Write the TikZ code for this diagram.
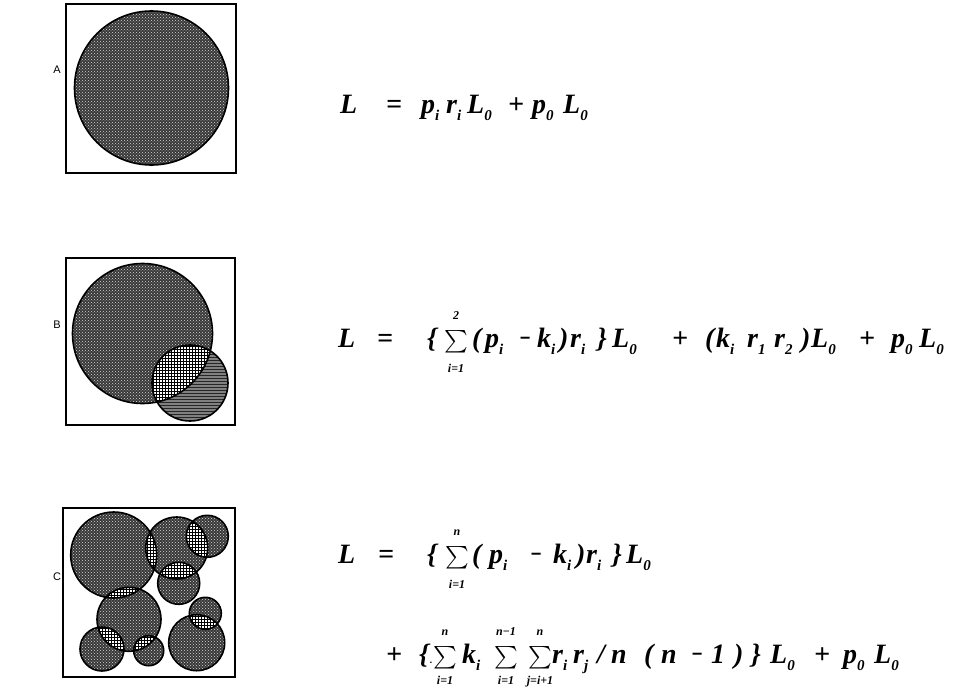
\documentclass[tikz,border=0pt]{standalone}
\usepackage{graphicx}
\usepackage{fontspec}
\setmainfont{Liberation Serif}
\newfontfamily\lblfont{Liberation Sans}
\usetikzlibrary{patterns}
\newcommand{\sbx}[1]{\raisebox{-0.28em}{\fontsize{15}{15}\selectfont #1}}
\newcommand{\mn}{\scalebox{0.7}[1]{\textminus}}
\newcommand{\tk}[4]{\node[eqt] (#1) at (#2,#3) {#4};}
\newcommand{\sm}[7]{%
  \node[sumt] (#1) at (#2,#3) {\scalebox{2.25}{$\textstyle\sum$}};
  \node[limt] (#1u) at (#2,#3-#6) {#4};
  \node[limt] (#1d) at (#2,#3+#7) {#5};}
\tikzset{
  eqt/.style={anchor=base west, inner sep=0pt, font=\fontsize{28}{30}\selectfont\bfseries\itshape},
  sumt/.style={anchor=base, inner sep=0pt},
  limt/.style={anchor=base, inner sep=0pt, font=\fontsize{12}{12}\selectfont\bfseries\itshape},
  lbl/.style={inner sep=0pt, font=\lblfont\fontsize{11}{12}\selectfont},
  frame/.style={draw, line width=1.1pt},
  blob/.style={fill=black!78},
  blobtex/.style={pattern=crosshatch dots, pattern color=white!85!black},
  rim/.style={draw, line width=1.6pt},
}
\begin{document}
\begin{tikzpicture}[x=1pt,y=-1pt]
\useasboundingbox (0,0) rectangle (955,688);
% ---------- labels
\node[lbl] (labA) at (57,70) {A};
\node[lbl] (labB) at (57,325) {B};
\node[lbl] (labC) at (57,577) {C};
% ---------- frames
\draw[frame] (66,4) rectangle (236,173);
\draw[frame] (66,258) rectangle (235,425);
\draw[frame] (63,508) rectangle (235,677);
% ---------- A
\coordinate (A0) at (151.5,88);
\fill[blob] (A0) circle[radius=77pt];
\fill[blobtex] (A0) circle[radius=77pt];
\draw[rim] (A0) circle[radius=77pt];
% ---------- B
\coordinate (B1) at (142.5,333.5);
\coordinate (B2) at (190,383);
\fill[blob] (B1) circle[radius=70pt];
\fill[blobtex] (B1) circle[radius=70pt];
\fill[black!50] (B2) circle[radius=38pt];
\fill[pattern=horizontal lines, pattern color=black!85] (B2) circle[radius=38pt];
\begin{scope}
  \clip (B1) circle[radius=70pt];
  \fill[white] (B2) circle[radius=38pt];
  \fill[pattern=grid] (B2) circle[radius=38pt];
\end{scope}
\draw[rim] (B1) circle[radius=70pt];
\draw[rim] (B2) circle[radius=38pt];
% ---------- C
\foreach \n/\x/\y/\r in {1/113.7/555/43, 2/176.7/548/31, 3/207.3/536.3/21, 4/178.7/583.3/21,
    5/129/619.3/32, 6/102/649/22, 7/148.7/650.7/15, 8/205.3/613.3/16, 9/196.7/642.7/28}{
  \coordinate (C\n) at (\x,\y);
  \fill[blob] (C\n) circle[radius=\r pt];
  \fill[blobtex] (C\n) circle[radius=\r pt];
}
\foreach \a/\ra/\b/\rb in {1/43/2/31, 2/31/3/21, 2/31/4/21, 1/43/5/32, 5/32/6/22, 5/32/7/15, 8/16/9/28}{
  \begin{scope}
    \clip (C\a) circle[radius=\ra pt];
    \fill[white] (C\b) circle[radius=\rb pt];
    \fill[pattern=grid] (C\b) circle[radius=\rb pt];
  \end{scope}
}
\foreach \n/\r in {1/43, 2/31, 3/21, 4/21, 5/32, 6/22, 7/15, 8/16, 9/28}{
  \draw[rim] (C\n) circle[radius=\r pt];
}
% ---------- equation A (baseline 113)
\tk{aL}{340}{113}{L}
\tk{aeq}{386}{113}{=}
\tk{ap}{421}{113}{p\sbx{i}}
\tk{ar}{446}{113}{r\sbx{i}}
\tk{aLa}{467}{113}{L\sbx{0}}
\tk{apl}{508}{113}{+}
\tk{ap0}{532}{113}{p\sbx{0}}
\tk{aLb}{563}{113}{L\sbx{0}}
% ---------- equation B (baseline 347)
\tk{bL}{338}{347}{L}
\tk{beq}{377}{347}{=}
\tk{bbo}{427}{347}{\{}
\sm{bs}{456}{347}{2}{i=1}{28}{25}
\tk{bpo}{472}{347}{(}
\tk{bp}{485}{347}{p\sbx{i}}
\tk{bmi}{519}{347}{\mn}
\tk{bk}{537}{347}{k\sbx{i}}
\tk{bpc}{559}{347}{)}
\tk{br}{570}{347}{r\sbx{i}}
\tk{bbc}{597}{347}{\}}
\tk{bLa}{612}{347}{L\sbx{0}}
\tk{bpl}{672}{347}{+}
\tk{bpo2}{705}{347}{(}
\tk{bk2}{716}{347}{k\sbx{i}}
\tk{br1}{747}{347}{r\sbx{1}}
\tk{br2}{774}{347}{r\sbx{2}}
\tk{bpc2}{801}{347}{)}
\tk{bLb}{811}{347}{L\sbx{0}}
\tk{bpl2}{859}{347}{+}
\tk{bp0}{891}{347}{p\sbx{0}}
\tk{bLc}{919}{347}{L\sbx{0}}
% ---------- equation C, first line (baseline 563)
\tk{cL}{338}{563}{L}
\tk{ceq}{378}{563}{=}
\tk{cbo}{427}{563}{\{}
\sm{cs}{457}{563}{n}{i=1}{28}{25}
\tk{cpo}{472}{563}{(}
\tk{cp}{489}{563}{p\sbx{i}}
\tk{cmi}{530}{563}{\mn}
\tk{ck}{553}{563}{k\sbx{i}}
\tk{cpc}{576}{563}{)}
\tk{cr}{586}{563}{r\sbx{i}}
\tk{cbc}{612}{563}{\}}
\tk{cLa}{626}{563}{L\sbx{0}}
% ---------- equation C, second line (baseline 663)
\tk{dpl}{386}{663}{+}
\tk{dbo}{419}{663}{\{}
\tk{ddot}{430}{663}{\fontsize{10}{10}\selectfont .}
\sm{ds1}{445}{663}{n}{i=1}{28}{21}
\tk{dk}{462}{663}{k\sbx{i}}
\sm{ds2}{506}{663}{n\textminus1}{i=1}{28}{21}
\sm{ds3}{540}{663}{n}{j=i+1}{28}{21}
\tk{dri}{552}{663}{r\sbx{i}}
\tk{drj}{573}{663}{r\sbx{j}}
\tk{dsl}{597}{663}{/}
\tk{dn}{611}{663}{n}
\tk{dpo}{644}{663}{(}
\tk{dn2}{661}{663}{n}
\tk{dmi}{691}{663}{\mn}
\tk{d1}{711}{663}{1}
\tk{dpc}{734}{663}{)}
\tk{dbc}{751}{663}{\}}
\tk{dLa}{770}{663}{L\sbx{0}}
\tk{dpl2}{814}{663}{+}
\tk{dp0}{843}{663}{p\sbx{0}}
\tk{dLb}{874}{663}{L\sbx{0}}
\end{tikzpicture}
\end{document}
